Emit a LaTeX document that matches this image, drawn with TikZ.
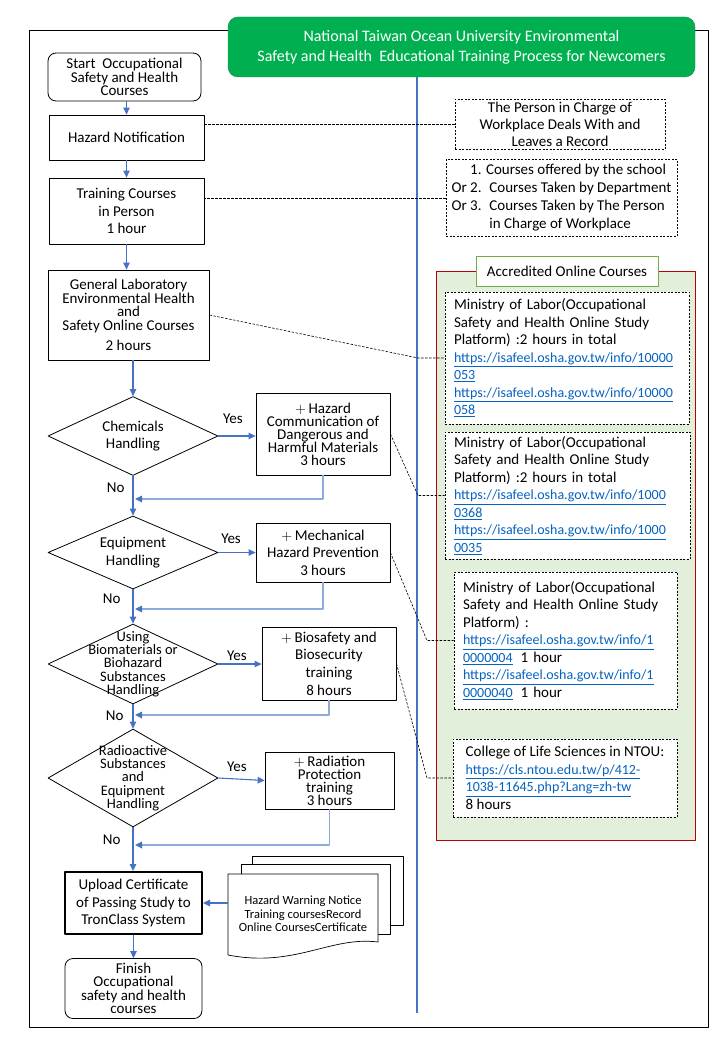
\documentclass[tikz,border=0pt]{standalone}
\usepackage{fontspec}
\setmainfont{Carlito}
\usetikzlibrary{shapes.geometric,arrows.meta}
\definecolor{flowBlue}{HTML}{4472C4}
\definecolor{mergeBlue}{HTML}{8FAADC}
\definecolor{titleGreen}{HTML}{00B050}
\definecolor{titleEdge}{HTML}{1E8449}
\definecolor{linkBlue}{HTML}{0563C1}
\definecolor{panelGreen}{HTML}{E2EFDA}
\definecolor{panelRed}{HTML}{C00000}
\definecolor{tabGreen}{HTML}{70AD47}
\newcommand{\ntouLink}[1]{{\fontsize{14}{17.5}\selectfont\textcolor{linkBlue}{\underline{#1}}}}
% tight line spacing: let lines come closer than their natural height
\newcommand{\fsTight}{\fontsize{15}{13.4}\selectfont\lineskiplimit=-\maxdimen}
\newcommand{\fsCompact}{\fontsize{15}{13}\selectfont\lineskiplimit=-\maxdimen}
\newcommand{\fsLoose}{\fontsize{15}{17.5}\selectfont}
\newcommand{\fsSmall}{\fontsize{14.5}{13.3}\selectfont\lineskiplimit=-\maxdimen}
\newcommand{\fsDoc}{\fontsize{12.5}{13.5}\selectfont\lineskiplimit=-\maxdimen}

\begin{document}
\begin{tikzpicture}[x=1pt, y=-1pt, line join=round,
    flowbox/.style={draw, line width=0.8pt, align=center, inner sep=0pt},
    terminal/.style={flowbox, rounded corners=8pt},
    decision/.style={draw, line width=0.8pt, shape=diamond, inner sep=0pt},
    infobox/.style={draw, line width=0.7pt, dash pattern=on 2pt off 1.5pt, fill=white,
      align=left, inner xsep=9pt, inner ysep=0pt, font=\fsLoose},
    flowarrow/.style={draw=flowBlue, line width=1.1pt, -{Triangle[length=7pt,width=6.5pt]}},
    backarrow/.style={draw=mergeBlue, line width=1.6pt, -{Triangle[length=7pt,width=6.5pt,color=flowBlue]}},
    linkline/.style={line width=0.6pt, dash pattern=on 2.5pt off 1.5pt},
    answer/.style={font=\fsLoose, inner sep=1pt}]
\useasboundingbox (0,0) rectangle (720,1040);
% Outer frame
\draw[line width=0.8pt] (29,30) rectangle (708,1027);
% Title and the lane line below it
\node[draw=titleEdge, fill=titleGreen, rounded corners=10pt, minimum width=467pt, minimum height=60pt,
  text=white, align=center, font=\fontsize{16}{20}\selectfont] (title) at (461.5,47)
  {National Taiwan Ocean University Environmental\\Safety and Health~ Educational Training Process for Newcomers};
\coordinate (laneEnd) at (417,1013);
\draw[draw=flowBlue, line width=2pt] (title.south -| laneEnd) -- (laneEnd);

% Main flow
\node[terminal, minimum width=153pt, minimum height=48pt, font=\fsTight] (start) at (124.5,77)
  {Start~ Occupational\\Safety and Health\\Courses};
\node[flowbox, minimum width=155pt, minimum height=45pt, font=\fsLoose] (hazard) at (126.5,137.5) {Hazard Notification};
\node[flowbox, minimum width=155pt, minimum height=66pt, font=\fsLoose] (inperson) at (126.5,211)
  {Training Courses\\in Person\\1 hour};
\node[flowbox, minimum width=161pt, minimum height=90pt, font=\fsTight] (general) at (128.5,315)
  {General Laboratory\\Environmental Health\\and\\Safety Online Courses\\[7pt]2 hours};

% Decisions and extra courses
\node[decision, minimum width=170pt, minimum height=79pt,
  label={[font=\fsLoose, align=center]center:Chemicals\\Handling}] (chem) at (133,436) {};
\node[flowbox, minimum width=134pt, minimum height=82pt, font=\fsCompact] (hcom) at (323,434)
  {$+$\,Hazard\\Communication of\\Dangerous and\\Harmful Materials\\3 hours};
\node[decision, minimum width=170pt, minimum height=73pt,
  label={[font=\fsLoose, align=center]center:Equipment\\Handling}] (equip) at (133,552.5) {};
\node[flowbox, minimum width=134pt, minimum height=59pt, font=\fsLoose] (mech) at (323,552.5)
  {$+$\,Mechanical\\Hazard Prevention\\3 hours};
\node[decision, minimum width=170pt, minimum height=80pt,
  label={[font=\fsSmall, align=center]center:Using\\Biomaterials or\\Biohazard\\Substances\\Handling}] (bio) at (133,664) {};
\node[flowbox, minimum width=134pt, minimum height=73pt, font=\fontsize{15}{17.7}\selectfont] (biosec) at (329,663.5)
  {$+$\,Biosafety and\\Biosecurity\\training\\8 hours};
\node[decision, minimum width=170pt, minimum height=98pt,
  label={[font=\fsSmall, align=center]center:Radioactive\\Substances\\and\\Equipment\\Handling}] (radio) at (133,778) {};
\node[flowbox, minimum width=129pt, minimum height=57pt, font=\fsCompact] (radprot) at (329.5,780.5)
  {$+$\,Radiation\\Protection\\training\\3 hours};

% End of the flow
\node[flowbox, line width=2pt, minimum width=137pt, minimum height=62pt, font=\fontsize{15}{17.7}\selectfont] (upload) at (133.5,903)
  {Upload Certificate\\of Passing Study to\\TronClass System};
\node[terminal, minimum width=137pt, minimum height=60pt, font=\fsTight] (finish) at (133.5,988.5)
  {Finish\\Occupational\\safety and health\\courses};

% Document stack
\filldraw[fill=white, line width=0.7pt] (252,856) rectangle (403,925);
\filldraw[fill=white, line width=0.7pt] (241,864) rectangle (390,934);
\filldraw[fill=white, line width=0.7pt] (228,874) -- (378,874) -- (378,942)
  .. controls (330,936) and (295,968) .. (228,955) -- cycle;
\node[font=\fsDoc, align=center, minimum width=150pt, inner sep=0pt] (docs) at (303,914)
  {Hazard Warning Notice\\ Training coursesRecord\\Online CoursesCertificate};

% Notes on the right
\node[infobox, align=center, minimum width=210pt, minimum height=50pt, font=\fontsize{15}{17}\selectfont] (person) at (560,124.5)
  {The Person in Charge of\\Workplace Deals With and\\Leaves a Record};
\node[infobox, inner xsep=0pt, minimum width=231pt, minimum height=77pt, font=\fontsize{15}{18}\selectfont] (courses) at (561.5,198)
  {\begin{tabular}{@{}r@{\ }l@{}}
   & 1. Courses offered by the school\\
   Or & 2.~ Courses Taken by Department\\
   Or & 3.~ Courses Taken by The Person\\
   & \hphantom{3.~ }in Charge of Workplace
   \end{tabular}};

% Accredited online courses
\node[draw=panelRed, fill=panelGreen, line width=0.8pt, minimum width=259pt, minimum height=569pt, inner sep=0pt] (accredited) at (565.5,555.5) {};
\node[draw=tabGreen, fill=white, line width=0.8pt, minimum width=182pt, minimum height=30pt, font=\fsLoose] (acclabel) at (567,271) {Accredited Online Courses};
\node[infobox, text width=226pt, minimum height=132pt] (olc1) at (567,358)
  {Ministry of Labor(Occupational\\Safety and Health Online Study\\Platform) :2 hours in total\\
   \ntouLink{https://isafeel.osha.gov.tw/info/10000}\\\ntouLink{053}\\
   \ntouLink{https://isafeel.osha.gov.tw/info/10000}\\\ntouLink{058}};
\node[infobox, text width=227pt, minimum height=127pt] (olc2) at (567.5,495.5)
  {Ministry of Labor(Occupational\\Safety and Health Online Study\\Platform) :2 hours in total\\
   \ntouLink{https://isafeel.osha.gov.tw/info/1000}\\\ntouLink{0368}\\
   \ntouLink{https://isafeel.osha.gov.tw/info/1000}\\\ntouLink{0035}};
\node[infobox, text width=205pt, minimum height=137pt] (olc3) at (565.5,640.5)
  {Ministry of Labor(Occupational\\Safety and Health Online Study\\Platform) :\\
   \ntouLink{https://isafeel.osha.gov.tw/info/1}\\\ntouLink{0000004}\hspace{8pt}1 hour\\
   \ntouLink{https://isafeel.osha.gov.tw/info/1}\\\ntouLink{0000040}\hspace{8pt}1 hour};
\node[infobox, minimum width=224pt, minimum height=78pt] (olc4) at (565,778)
  {College of Life Sciences in NTOU:\\
   \ntouLink{https://cls.ntou.edu.tw/p/412-}\\\ntouLink{1038-11645.php?Lang=zh-tw}\\8 hours};

% Flow arrows
\draw[flowarrow] (hazard.north |- start.south) -- (hazard.north);
\draw[flowarrow] (hazard.south) -- (inperson.north);
\draw[flowarrow] (inperson.south) -- (inperson.south |- general.north);
\draw[flowarrow] (chem.north |- general.south) -- (chem.north);
\draw[flowarrow] (chem.south) -- node[answer, left=7pt, pos=0.3] (no1) {No} (equip.north);
\draw[flowarrow] (equip.south) -- node[answer, left=11pt, pos=0.26] (no2) {No} (bio.north);
\draw[flowarrow] (bio.south) -- node[answer, left=8pt, pos=0.48] (no3) {No} (radio.north);
\draw[flowarrow] (radio.south) -- node[answer, left=11pt, pos=0.29] (no4) {No} (radio.south |- upload.north);
\draw[flowarrow] (upload.south) -- (finish.north);
\draw[flowarrow] (chem.east) -- node[answer, above=11pt, pos=0.39] (yes1) {Yes} (chem.east -| hcom.west);
\draw[flowarrow] (equip.east) -- node[answer, above=7pt, pos=0.34] (yes2) {Yes} (equip.east -| mech.west);
\draw[flowarrow] (bio.east) -- node[answer, above=2pt, pos=0.43] (yes3) {Yes} (bio.east -| biosec.west);
\draw[flowarrow] (radio.east) -- node[answer, above=6pt, pos=0.4] (yes4) {Yes} (radprot.west);
\draw[flowarrow] (docs.west |- upload.east) -- (upload.east);

% Back to the main line
\coordinate (join1) at (135,499);
\coordinate (join2) at (135,609);
\coordinate (join3) at (135,715);
\coordinate (join4) at (135,845);
\draw[backarrow] (hcom.south) |- (join1);
\draw[backarrow] (mech.south) |- (join2);
\draw[backarrow] (biosec.south) |- (join3);
\draw[backarrow] (radprot.south) |- (join4);

% Dashed links to the notes
\coordinate (laneX) at (418,0);
\coordinate (bendX) at (427,0);
\draw[linkline] (person.west) -- (person.west -| hazard.east);
\draw[linkline] (courses.west) -- (courses.west -| inperson.east);
\draw[linkline] (general.east) -- (olc1.west -| laneX) -- (olc1.west);
\draw[linkline] (hcom.east) -- (olc2.west -| laneX) -- (olc2.west);
\draw[linkline] (mech.east) -- (olc3.west -| bendX) -- (olc3.west);
\draw[linkline] (biosec.east) -- (olc4.west -| bendX) -- (olc4.west);
\end{tikzpicture}
\end{document}
